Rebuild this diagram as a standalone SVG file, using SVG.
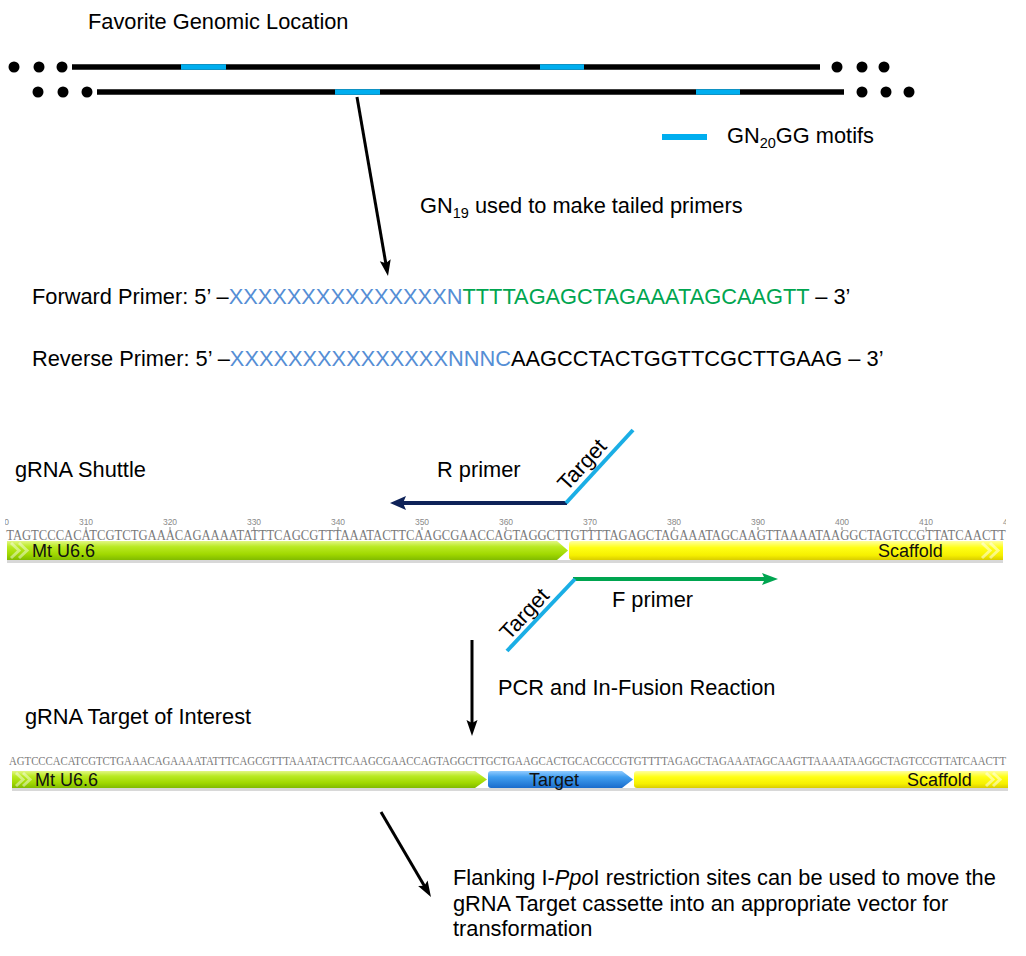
<svg xmlns="http://www.w3.org/2000/svg" width="1026" height="956" viewBox="0 0 1026 956">
<style>
.t{font-family:"Liberation Sans",Arial,sans-serif;font-size:21.8px;fill:#000}
.lab{font-family:"Liberation Sans",Arial,sans-serif;font-size:18px;fill:#111}
.num{font-family:"Liberation Sans",Arial,sans-serif;font-size:8.5px;fill:#8a8a8a;text-anchor:middle}
.seq{font-family:"Liberation Serif","Times New Roman",serif;fill:#7a7a7a}
.dna{stroke:#000;stroke-width:5.5}
.motif{stroke:#00AEEF;stroke-width:5.5}
.dot{fill:#000}
.xs{fill:#558ED5}
.gs{fill:#00A550}
.chev{fill:none;stroke:#ffffff;stroke-opacity:0.45;stroke-width:3}
.chevy{fill:none;stroke:#ffffff;stroke-opacity:0.5;stroke-width:3}
</style>
<defs>
<linearGradient id="gGreen" x1="0" y1="0" x2="0" y2="1">
<stop offset="0" stop-color="#e2f684"/><stop offset="0.3" stop-color="#b9ea22"/><stop offset="0.7" stop-color="#a0d800"/><stop offset="1" stop-color="#80bb00"/>
</linearGradient>
<linearGradient id="gYellow" x1="0" y1="0" x2="0" y2="1">
<stop offset="0" stop-color="#ffffa0"/><stop offset="0.35" stop-color="#ffff14"/><stop offset="0.75" stop-color="#f6f000"/><stop offset="1" stop-color="#d9cd00"/>
</linearGradient>
<linearGradient id="gBlue" x1="0" y1="0" x2="0" y2="1">
<stop offset="0" stop-color="#92ccff"/><stop offset="0.35" stop-color="#419ff0"/><stop offset="1" stop-color="#1a6ccc"/>
</linearGradient>
<marker id="mBlack" markerUnits="userSpaceOnUse" markerWidth="16" markerHeight="12" refX="6" refY="5.5" orient="auto">
<path d="M0,0 L16,5.5 L0,11 L3,5.5 z" fill="#000"/>
</marker>
<marker id="mNavy" markerUnits="userSpaceOnUse" markerWidth="16" markerHeight="14" refX="6" refY="7" orient="auto">
<path d="M0,0 L16,7 L0,14 L3,7 z" fill="#0E2258"/>
</marker>
<marker id="mGreen" markerUnits="userSpaceOnUse" markerWidth="16" markerHeight="12" refX="6" refY="6" orient="auto">
<path d="M0,0 L16,6 L0,12 L3,6 z" fill="#00A550"/>
</marker>
<clipPath id="clipTrack1"><rect x="5" y="505" width="1001" height="30"/></clipPath>
</defs>
<rect width="1026" height="956" fill="#ffffff"/>

<g id="genome">
<text class="t" x="88" y="29">Favorite Genomic Location</text>
<circle class="dot" cx="14" cy="67" r="5.5"/><circle class="dot" cx="39" cy="67" r="5.5"/><circle class="dot" cx="62" cy="67" r="5.5"/>
<line class="dna" x1="72" y1="67" x2="820" y2="67"/>
<line class="motif" x1="181" y1="67" x2="226" y2="67"/>
<line class="motif" x1="540" y1="67" x2="584" y2="67"/>
<circle class="dot" cx="837" cy="67" r="5.5"/><circle class="dot" cx="862" cy="67" r="5.5"/><circle class="dot" cx="884" cy="67" r="5.5"/>
<circle class="dot" cx="38" cy="92" r="5.5"/><circle class="dot" cx="63" cy="92" r="5.5"/><circle class="dot" cx="87" cy="92" r="5.5"/>
<line class="dna" x1="97" y1="92" x2="844" y2="92"/>
<line class="motif" x1="335" y1="92" x2="380" y2="92"/>
<line class="motif" x1="696" y1="92" x2="740" y2="92"/>
<circle class="dot" cx="862" cy="92" r="5.5"/><circle class="dot" cx="886" cy="92" r="5.5"/><circle class="dot" cx="909" cy="92" r="5.5"/>
</g>

<g id="legend">
<line x1="662" y1="137" x2="707" y2="137" stroke="#00AEEF" stroke-width="6"/>
<text class="t" x="727" y="143">GN<tspan font-size="14.5" dy="5">20</tspan><tspan dy="-5">GG motifs</tspan></text>
</g>

<g id="label-gn19">
<text class="t" x="420" y="213">GN<tspan font-size="14.5" dy="5">19</tspan><tspan dy="-5"> used to make tailed primers</tspan></text>
</g>

<g id="primers">
<text class="t" x="32" y="304">Forward Primer: 5’ –<tspan class="xs">XXXXXXXXXXXXXXXN</tspan><tspan class="gs">TTTTAGAGCTAGAAATAGCAAGTT</tspan> – 3’</text>
<text class="t" x="32" y="366">Reverse Primer: 5’ –<tspan class="xs">XXXXXXXXXXXXXXXNNNC</tspan>AAGCCTACTGGTTCGCTTGAAG – 3’</text>
</g>

<g id="shuttle-labels">
<text class="t" x="15" y="477">gRNA Shuttle</text>
<text class="t" x="437" y="477">R primer</text>
<text class="t" x="612" y="607">F primer</text>
<text class="t" transform="translate(567,492) rotate(-47.5)">Target</text>
<text class="t" transform="translate(509,641) rotate(-47)">Target</text>
</g>

<g id="track-shuttle">
<g clip-path="url(#clipTrack1)">
<text class="num" x="2" y="525">300</text>
<text class="num" x="1010" y="525">420</text>
</g>
<text class="num" x="86" y="525">310</text>
<text class="num" x="170" y="525">320</text>
<text class="num" x="254" y="525">330</text>
<text class="num" x="338" y="525">340</text>
<text class="num" x="422" y="525">350</text>
<text class="num" x="506" y="525">360</text>
<text class="num" x="590" y="525">370</text>
<text class="num" x="674" y="525">380</text>
<text class="num" x="758" y="525">390</text>
<text class="num" x="842" y="525">400</text>
<text class="num" x="926" y="525">410</text>
<path d="M86,527V530M170,527V530M254,527V530M338,527V530M422,527V530M506,527V530M590,527V530M674,527V530M758,527V530M842,527V530M926,527V530" stroke="#8a8a8a" stroke-width="1"/>
<text class="seq" x="6.2" y="540" font-size="15" textLength="999.6" lengthAdjust="spacingAndGlyphs">TAGTCCCACATCGTCTGAAACAGAAAATATTTCAGCGTTTAAATACTTCAAGCGAACCAGTAGGCTTGTTTTAGAGCTAGAAATAGCAAGTTAAAATAAGGCTAGTCCGTTATCAACTT</text>
<rect x="7" y="560" width="996" height="3" fill="#d8d8d8"/>
<path d="M7,541 H557 L568,550.5 L557,560 H7 Z" fill="url(#gGreen)"/>
<path d="M572,541 H1003 V560 H572 Q569,560 569,557 V544 Q569,541 572,541 Z" fill="url(#gYellow)"/>
<path class="chev" d="M11,543 L19,550.5 L11,558 M19,543 L27,550.5 L19,558"/>
<path class="chevy" d="M982,543 L990,550.5 L982,558 M990,543 L998,550.5 L990,558"/>
<text class="lab" x="32" y="557">Mt U6.6</text>
<text class="lab" x="878" y="557">Scaffold</text>
</g>

<g id="pcr-labels">
<text class="t" x="498" y="695">PCR and In-Fusion Reaction</text>
<text class="t" x="25" y="724">gRNA Target of Interest</text>
</g>

<g id="track-target">
<text class="seq" x="9" y="765" font-size="12" textLength="997" lengthAdjust="spacingAndGlyphs">AGTCCCACATCGTCTGAAACAGAAAATATTTCAGCGTTTAAATACTTCAAGCGAACCAGTAGGCTTGCTGAAGCACTGCACGCCGTGTTTTAGAGCTAGAAATAGCAAGTTAAAATAAGGCTAGTCCGTTATCAACTT</text>
<rect x="12" y="788" width="996" height="3" fill="#d8d8d8"/>
<path d="M12,771 H475 L487,779.5 L475,788 H12 Z" fill="url(#gGreen)"/>
<path d="M491,771 H622 L633,779.5 L622,788 H491 Q488,788 488,785 V774 Q488,771 491,771 Z" fill="url(#gBlue)"/>
<path d="M637,771 H1008 V788 H637 Q634,788 634,785 V774 Q634,771 637,771 Z" fill="url(#gYellow)"/>
<path class="chev" d="M16,773 L23,779.5 L16,786 M23,773 L30,779.5 L23,786"/>
<path class="chevy" d="M986,773 L993,779.5 L986,786 M993,773 L1000,779.5 L993,786"/>
<text class="lab" x="35" y="786">Mt U6.6</text>
<text class="lab" x="529" y="786">Target</text>
<text class="lab" x="907" y="786">Scaffold</text>
</g>

<g id="transfer-note">
<text class="t" x="453" y="885">Flanking  I-<tspan font-style="italic">Ppo</tspan>I restriction sites can be used to move the</text>
<text class="t" x="453" y="911">gRNA Target cassette into an appropriate vector for</text>
<text class="t" x="453" y="936">transformation</text>
</g>

<g id="connectors">
<line x1="357" y1="97" x2="386.3" y2="266.2" stroke="#000" stroke-width="3" marker-end="url(#mBlack)"/>
<line x1="567" y1="503" x2="400" y2="503" stroke="#0E2258" stroke-width="4" marker-end="url(#mNavy)"/>
<line x1="566" y1="503" x2="633" y2="430" stroke="#1AAEE5" stroke-width="4"/>
<line x1="573" y1="579" x2="768" y2="579" stroke="#00A550" stroke-width="4" marker-end="url(#mGreen)"/>
<line x1="507" y1="651" x2="575" y2="579" stroke="#1AAEE5" stroke-width="4"/>
<line x1="472" y1="640" x2="472" y2="726" stroke="#000" stroke-width="3" marker-end="url(#mBlack)"/>
<line x1="381" y1="812" x2="425.9" y2="888.4" stroke="#000" stroke-width="3" marker-end="url(#mBlack)"/>
</g>
</svg>
